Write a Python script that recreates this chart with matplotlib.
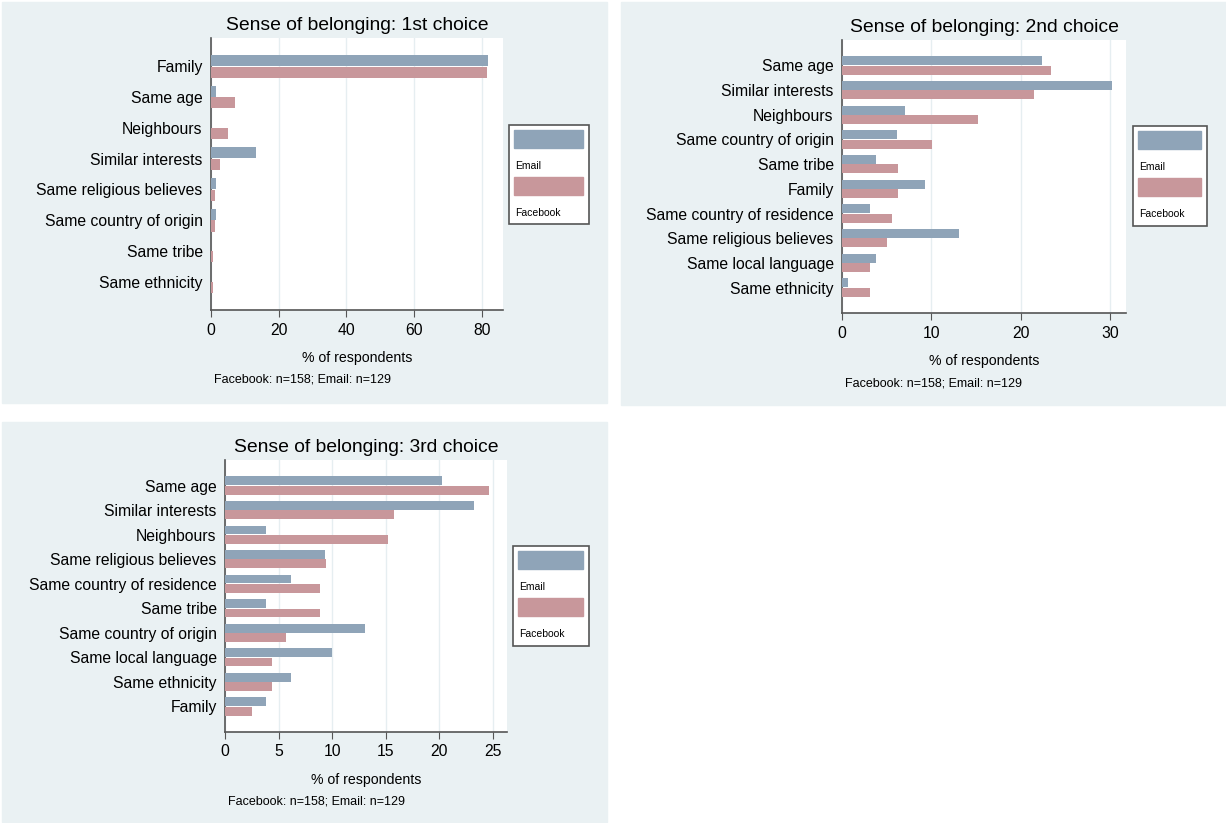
import matplotlib
matplotlib.use("Agg")
import matplotlib.pyplot as plt
from matplotlib.patches import Rectangle

plt.rcParams['font.family'] = ['Liberation Sans', 'DejaVu Sans']

# 1st choice
cats1 = ["Family", "Same age", "Neighbours", "Similar interests",
         "Same religious believes", "Same country of origin", "Same tribe",
         "Same ethnicity"]
email1 = [81.8, 1.5, 0.0, 13.2, 1.5, 1.5, 0.0, 0.0]
fb1 = [81.4, 7.0, 5.0, 2.7, 1.3, 1.3, 0.6, 0.6]

# 2nd choice
cats2 = ["Same age", "Similar interests", "Neighbours", "Same country of origin",
         "Same tribe", "Family", "Same country of residence",
         "Same religious believes", "Same local language", "Same ethnicity"]
email2 = [22.4, 30.2, 7.0, 6.2, 3.8, 9.3, 3.1, 13.1, 3.8, 0.7]
fb2 = [23.4, 21.5, 15.2, 10.1, 6.3, 6.3, 5.6, 5.0, 3.1, 3.1]

# 3rd choice
cats3 = ["Same age", "Similar interests", "Neighbours", "Same religious believes",
         "Same country of residence", "Same tribe", "Same country of origin",
         "Same local language", "Same ethnicity", "Family"]
email3 = [20.2, 23.2, 3.85, 9.3, 6.2, 3.85, 13.1, 10.0, 6.2, 3.85]
fb3 = [24.6, 15.8, 15.2, 9.45, 8.9, 8.9, 5.7, 4.4, 4.4, 2.5]

note = "Facebook: n=158; Email: n=129"

EMAIL_C = "#8fa4b8"
FB_C = "#c8979b"
BG = "#eaf1f3"
GRID = "#e6eef1"
AXC = "#555555"

W, H = 1226, 823
fig = plt.figure(figsize=(W / 100, H / 100), dpi=100, facecolor="white")


def fx(x):
    return x / W


def fy(y):
    return 1 - y / H


def panel(bg, axbox, legbox, title, cats, email, fb, xmax, ticks, margin):
    bx0, by0, bx1, by1 = bg
    fig.patches.append(Rectangle((fx(bx0), fy(by1)), fx(bx1 - bx0), (by1 - by0) / H,
                                 transform=fig.transFigure, color=BG, zorder=-5))
    x0, y0, x1, y1 = axbox
    ax = fig.add_axes([fx(x0), fy(y1), fx(x1 - x0), (y1 - y0) / H])
    ax.set_zorder(5)
    ax.set_facecolor("white")
    n = len(cats)
    pos = list(range(n))
    ax.barh([p - 0.19 for p in pos], email, height=0.36, color=EMAIL_C, zorder=3)
    ax.barh([p + 0.19 for p in pos], fb, height=0.36, color=FB_C, zorder=3)
    ax.set_ylim(n - 1 + margin, -margin)
    ax.set_xlim(0, xmax)
    ax.set_xticks(ticks)
    ax.set_yticks(pos)
    ax.set_yticklabels(cats, fontsize=11.3)
    ax.tick_params(axis="y", length=0, pad=6)
    ax.tick_params(axis="x", length=5, color=AXC, labelsize=11.3, pad=4)
    ax.xaxis.grid(True, color=GRID, lw=1, zorder=0)
    ax.set_axisbelow(True)
    for s in ["top", "right"]:
        ax.spines[s].set_visible(False)
    for s in ["left", "bottom"]:
        ax.spines[s].set_color(AXC)
        ax.spines[s].set_linewidth(1.2)
    cx = (x0 + x1) / 2
    fig.text(fx(cx), fy(y0 - 12), title, ha="center", va="center", fontsize=13.9)
    fig.text(fx(cx), fy(y1 + 48), "% of respondents", ha="center", va="center", fontsize=10.2)
    fig.text(fx(x0 + 3), fy(y1 + 70), note, ha="left", va="center", fontsize=9)

    # legend box
    lx0, ly0, lx1, ly1 = legbox
    fig.patches.append(Rectangle((fx(lx0), fy(ly1)), fx(lx1 - lx0), (ly1 - ly0) / H,
                                 transform=fig.transFigure, facecolor="white",
                                 edgecolor="#555555", lw=1.2, zorder=2))
    for i, (lab, c) in enumerate([("Email", EMAIL_C), ("Facebook", FB_C)]):
        top = ly0 + 5 + i * 47
        fig.patches.append(Rectangle((fx(lx0 + 5), fy(top + 18)), fx(lx1 - lx0 - 11), 18 / H,
                                     transform=fig.transFigure, color=c, zorder=3))
        fig.text(fx(lx0 + 6), fy(top + 36), lab, ha="left", va="center", fontsize=7.5, zorder=4)
    return ax


panel((2, 2, 607, 403), (211, 38, 503, 310), (509, 125, 589, 224),
      "Sense of belonging: 1st choice", cats1, email1, fb1, 86.2, [0, 20, 40, 60, 80], 0.92)
panel((621, 2, 1226, 405), (842, 40, 1126, 313), (1133, 126, 1207, 226),
      "Sense of belonging: 2nd choice", cats2, email2, fb2, 31.8, [0, 10, 20, 30], 1.03)
panel((2, 422, 607, 822), (225, 460, 507, 732), (513, 546, 589, 646),
      "Sense of belonging: 3rd choice", cats3, email3, fb3, 26.3, [0, 5, 10, 15, 20, 25], 1.04)

fig.savefig("out.png", dpi=100, facecolor="white")
